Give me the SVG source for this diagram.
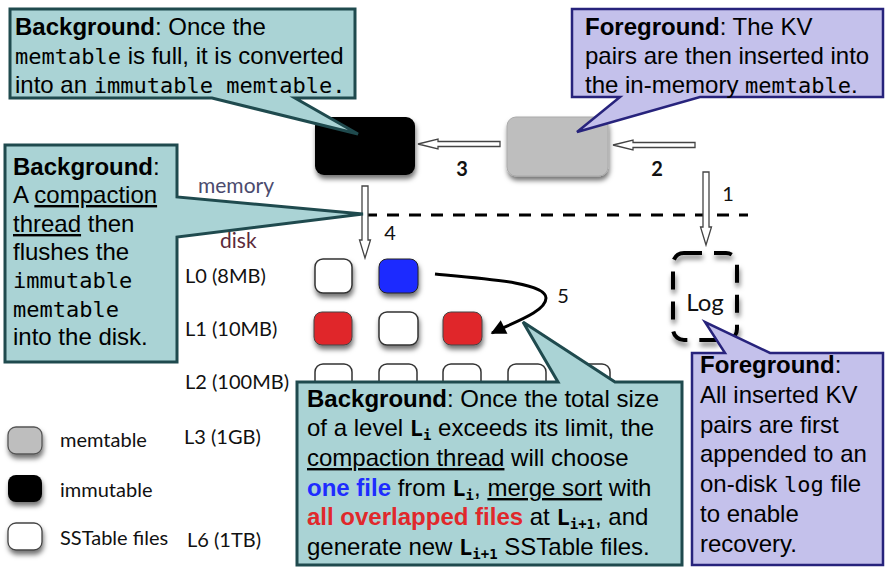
<svg xmlns="http://www.w3.org/2000/svg" width="887" height="571" viewBox="0 0 887 571">
<defs>
<style>
.t{font-family:"Liberation Sans",Arial,sans-serif;font-size:24px;fill:#000}
.b{font-weight:bold}
.m{font-family:"DejaVu Sans Mono",monospace;font-size:22px}
.mb{font-family:"DejaVu Sans Mono",monospace;font-size:22px;font-weight:bold}
.sub{font-family:"DejaVu Sans Mono",monospace;font-size:14px;font-weight:bold}
.u{text-decoration:underline}
.g{font-family:Lato,"Open Sans",sans-serif;font-size:20px;fill:#111}
.teal{fill:#aad3d5;stroke:#1f4a4e;stroke-width:3;stroke-linejoin:miter}
.purp{fill:#c4c1eb;stroke:#27237c;stroke-width:2.5;stroke-linejoin:miter}
.hollow{fill:#fff;stroke:#444;stroke-width:1.3}
.sst{fill:#fff;stroke:#333;stroke-width:1.5}
</style>
<filter id="sh" x="-30%" y="-30%" width="160%" height="170%">
<feDropShadow dx="1" dy="4" stdDeviation="2.5" flood-color="#000" flood-opacity="0.55"/>
</filter>
<marker id="ah" viewBox="0 0 10 10" refX="9" refY="5" markerWidth="5.5" markerHeight="5" orient="auto">
<path d="M0,0 L10,5 L0,10 Z" fill="#000"/>
</marker>
</defs>
<rect width="887" height="571" fill="#fff"/>

<g id="divider">
<line x1="365" y1="215" x2="748" y2="215" stroke="#000" stroke-width="3" stroke-dasharray="12 10"/>
<text class="g" x="198" y="193" style="fill:#4b4b6e;font-size:21px">memory</text>
<text class="g" x="220" y="248" style="fill:#5c2a3a;font-size:21px">disk</text>
</g>

<g id="immutable">
<rect x="315" y="117" width="100" height="58" rx="9" fill="#000" filter="url(#sh)"/>
</g>
<g id="memtable">
<rect x="507" y="117" width="101" height="59" rx="9" fill="#bebebe" stroke="#aaa" stroke-width="1" filter="url(#sh)"/>
</g>

<g id="log">
<rect x="673" y="253" width="64" height="87" rx="11" fill="none" stroke="#000" stroke-width="4" stroke-dasharray="18 12" filter="url(#sh)"/>
<text class="g" x="705" y="311" text-anchor="middle" style="font-size:24px;fill:#111">Log</text>
</g>

<g id="levels">
<text class="g" x="185" y="283">L0 (8MB)</text>
<text class="g" x="185" y="336">L1 (10MB)</text>
<text class="g" x="185" y="389">L2 (100MB)</text>
<text class="g" x="184" y="444">L3 (1GB)</text>
<text class="g" x="187" y="547">L6 (1TB)</text>
</g>

<g id="sstables">
<rect class="sst" x="315" y="259" width="37" height="34" rx="8" filter="url(#sh)"/>
<rect x="379" y="259" width="39" height="34" rx="8" fill="#1e2cff" stroke="#222" stroke-width="1" filter="url(#sh)"/>
<rect x="314" y="312" width="38" height="33" rx="8" fill="#e0282b" stroke="#444" stroke-width="1" filter="url(#sh)"/>
<rect class="sst" x="379" y="312" width="39" height="33" rx="8" filter="url(#sh)"/>
<rect x="443" y="312" width="39" height="33" rx="8" fill="#e0282b" stroke="#444" stroke-width="1" filter="url(#sh)"/>
<rect class="sst" x="315" y="364" width="37" height="34" rx="8"/>
<rect class="sst" x="379" y="364" width="38" height="34" rx="8"/>
<rect class="sst" x="443" y="364" width="38" height="34" rx="8"/>
<rect class="sst" x="508" y="364" width="38" height="34" rx="8"/>
<rect class="sst" x="572" y="364" width="38" height="34" rx="8"/>
</g>

<g id="legend">
<rect x="8" y="427" width="34" height="27" rx="8" fill="#bebebe" stroke="#555" stroke-width="1.3" filter="url(#sh)"/>
<rect x="8" y="475" width="34" height="27" rx="8" fill="#000" filter="url(#sh)"/>
<rect x="8" y="523" width="34" height="27" rx="8" fill="#fff" stroke="#444" stroke-width="1.3" filter="url(#sh)"/>
<text class="g" x="60" y="447">memtable</text>
<text class="g" x="60" y="497">immutable</text>
<text class="g" x="60" y="545">SSTable files</text>
</g>

<g id="connectors">
<path class="hollow" d="M418,144 L438,139 L438,141.5 L500,141.5 L500,146.5 L438,146.5 L438,149 Z"/>
<path class="hollow" d="M613,145 L633,140 L633,142.5 L695,142.5 L695,147.5 L633,147.5 L633,150 Z"/>
<path class="hollow" d="M706,245 L700.5,227 L703,227 L703,172 L709,172 L709,227 L711.5,227 Z"/>
<path class="hollow" d="M365,258 L359.5,240 L362,240 L362,186 L368,186 L368,240 L370.5,240 Z"/>
<path d="M435,274 C490,279 546,283 546,298 C546,312 512,323 492,333" fill="none" stroke="#000" stroke-width="3" marker-end="url(#ah)"/>
<text class="g" x="462" y="176" text-anchor="middle" style="font-weight:bold">3</text>
<text class="g" x="657" y="176" text-anchor="middle" style="font-weight:bold">2</text>
<text class="g" x="728" y="201" text-anchor="middle">1</text>
<text class="g" x="390" y="240" text-anchor="middle">4</text>
<text class="g" x="563" y="303" text-anchor="middle">5</text>
</g>

<g id="callout-immutable">
<path class="teal" d="M10,9 H355 V98 H295 L358,134 L212,98 H10 Z"/>
<text class="t" x="15" y="35"><tspan class="b">Background</tspan>: Once the</text>
<text class="t" x="15" y="64"><tspan class="m">memtable</tspan> is full, it is converted</text>
<text class="t" x="15" y="93">into an <tspan class="m">immutable memtable.</tspan></text>
</g>

<g id="callout-insert">
<path class="purp" d="M572,9 H883 V97 H700 L577,132 L620,97 H572 Z"/>
<text class="t" x="585" y="35"><tspan class="b">Foreground</tspan>: The KV</text>
<text class="t" x="585" y="64">pairs are then inserted into</text>
<text class="t" x="585" y="93">the in-memory <tspan class="m">memtable</tspan>.</text>
</g>

<g id="callout-flush">
<path class="teal" d="M5,145 H177 V197 L363,214 L177,237 V362 H5 Z"/>
<text class="t" x="13" y="175"><tspan class="b">Background</tspan>:</text>
<text class="t" x="13" y="203">A <tspan class="u">compaction</tspan></text>
<text class="t" x="13" y="232"><tspan class="u">thread</tspan> then</text>
<text class="t" x="13" y="260">flushes the</text>
<text class="t" x="13" y="288"><tspan class="m">immutable</tspan></text>
<text class="t" x="13" y="317"><tspan class="m">memtable</tspan></text>
<text class="t" x="13" y="345">into the disk.</text>
</g>

<g id="callout-compaction">
<path class="teal" d="M297,382 H558 L523,322 L615,382 H682 V565 H297 Z"/>
<text class="t" x="307" y="407"><tspan class="b">Background</tspan>: Once the total size</text>
<text class="t" x="307" y="436">of a level <tspan class="mb">L</tspan><tspan class="sub" dy="4">i</tspan><tspan dy="-4"> exceeds its limit, the</tspan></text>
<text class="t" x="307" y="466"><tspan class="u">compaction thread</tspan> will choose</text>
<text class="t" x="307" y="496"><tspan class="b" style="fill:#1e2cff">one file</tspan> from <tspan class="mb">L</tspan><tspan class="sub" dy="4">i</tspan><tspan dy="-4">, </tspan><tspan class="u">merge sort</tspan> with</text>
<text class="t" x="307" y="525"><tspan class="b" style="fill:#e0282b">all overlapped files</tspan> at <tspan class="mb">L</tspan><tspan class="sub" dy="4">i+1</tspan><tspan dy="-4">, and</tspan></text>
<text class="t" x="307" y="555">generate new <tspan class="mb">L</tspan><tspan class="sub" dy="4">i+1</tspan><tspan dy="-4"> SSTable files.</tspan></text>
</g>

<g id="callout-log">
<path class="purp" d="M692,353 H725 L705,322 L770,353 H883 V565 H692 Z"/>
<text class="t" x="700" y="373"><tspan class="b">Foreground</tspan>:</text>
<text class="t" x="700" y="403">All inserted KV</text>
<text class="t" x="700" y="433">pairs are first</text>
<text class="t" x="700" y="462">appended to an</text>
<text class="t" x="700" y="492">on-disk <tspan class="m">log</tspan> file</text>
<text class="t" x="700" y="522">to enable</text>
<text class="t" x="700" y="552">recovery.</text>
</g>
</svg>
